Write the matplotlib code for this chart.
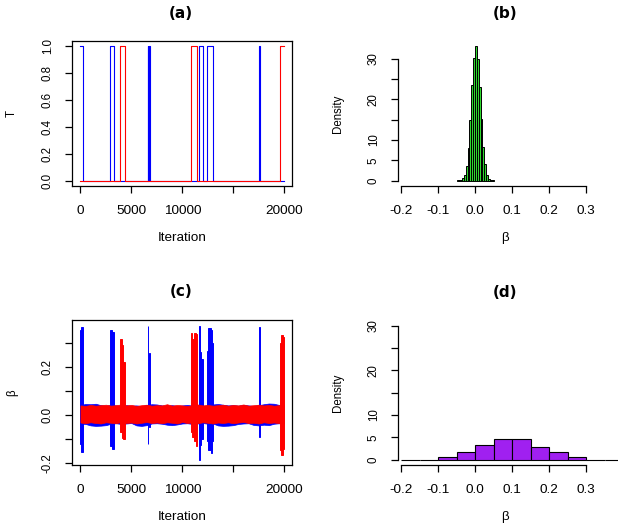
import numpy as np
import matplotlib
matplotlib.use("Agg")
import matplotlib.pyplot as plt

plt.rcParams['font.family'] = ['Liberation Sans', 'DejaVu Sans']

# ---- data ----
n_iter = 20000

# panel (a): iterations where T = 1 for each chain
blue_on = [(0, 220), (2860, 3280), (6600, 6650), (6720, 6790),
           (11660, 11990), (12380, 13040), (17560, 17600)]
red_on = [(3910, 4400), (10900, 11460), (19570, 20000)]

# panel (c): envelope of the beta trace while T = 0 (every 500 iterations)
blue_hi = [0.041, 0.045, 0.044, 0.046, 0.040, 0.038, 0.041, 0.039, 0.037, 0.040,
           0.038, 0.039, 0.036, 0.041, 0.044, 0.043, 0.039, 0.038, 0.040, 0.037,
           0.039, 0.041, 0.038, 0.040, 0.037, 0.039, 0.043, 0.045, 0.042, 0.039,
           0.040, 0.038, 0.041, 0.039, 0.037, 0.040, 0.044, 0.047, 0.046, 0.041, 0.038]
blue_lo = [-0.036, -0.038, -0.044, -0.046, -0.045, -0.043, -0.037, -0.035, -0.038, -0.036,
           -0.034, -0.044, -0.046, -0.043, -0.036, -0.035, -0.037, -0.041, -0.043, -0.040,
           -0.036, -0.035, -0.038, -0.036, -0.034, -0.037, -0.036, -0.044, -0.046, -0.045,
           -0.043, -0.038, -0.036, -0.035, -0.042, -0.044, -0.041, -0.043, -0.037, -0.035, -0.034]
red_hi = [0.039, 0.037, 0.041, 0.038, 0.040, 0.042, 0.038, 0.040, 0.043, 0.039,
          0.041, 0.037, 0.040, 0.042, 0.038, 0.040, 0.039, 0.044, 0.038, 0.041,
          0.039, 0.037, 0.040, 0.043, 0.039, 0.041, 0.038, 0.040, 0.042, 0.038,
          0.041, 0.039, 0.043, 0.038, 0.040, 0.042, 0.039, 0.041, 0.038, 0.040, 0.039]
red_lo = [-0.032, -0.035, -0.031, -0.034, -0.036, -0.031, -0.033, -0.035, -0.030, -0.034,
          -0.032, -0.036, -0.033, -0.030, -0.034, -0.032, -0.035, -0.031, -0.033, -0.036,
          -0.030, -0.034, -0.032, -0.035, -0.031, -0.033, -0.036, -0.032, -0.034, -0.031,
          -0.035, -0.032, -0.030, -0.034, -0.033, -0.036, -0.031, -0.034, -0.032, -0.035, -0.031]

# panel (c): beta range while T = 1  (start, end, low, high)
blue_blocks = [(0, 100, -0.120, 0.350), (100, 220, -0.153, 0.365),
               (2860, 2950, -0.110, 0.240), (2950, 3120, -0.130, 0.350),
               (3120, 3280, -0.140, 0.345), (6600, 6650, -0.120, 0.370),
               (6720, 6790, -0.050, 0.255), (11660, 11720, -0.186, 0.370),
               (11720, 11850, -0.125, 0.260), (11850, 11990, -0.100, 0.230),
               (12380, 12560, -0.110, 0.265), (12560, 12800, -0.145, 0.360),
               (12800, 12950, -0.157, 0.350), (12950, 13040, -0.110, 0.300),
               (17560, 17600, -0.092, 0.364)]
red_blocks = [(3910, 4050, -0.070, 0.313), (4050, 4200, -0.095, 0.290),
              (4200, 4400, -0.100, 0.220), (10900, 11000, -0.070, 0.340),
              (11000, 11180, -0.090, 0.315), (11180, 11350, -0.110, 0.340),
              (11350, 11460, -0.130, 0.335), (19570, 19720, -0.145, 0.300),
              (19720, 19900, -0.165, 0.330), (19900, 20000, -0.140, 0.325)]

# panel (b): histogram, bin width 0.005
b_edges = [-0.05 + 0.005 * i for i in range(21)]
b_dens = [0.05, 0.1, 0.2, 0.6, 1.5, 3.6, 8.0, 14.8, 23.5, 30.2,
          33.0, 30.0, 23.0, 15.2, 8.3, 4.0, 1.5, 0.4, 0.1, 0.05]

# panel (d): histogram, bin width 0.05
d_edges = [-0.2, -0.15, -0.1, -0.05, 0.0, 0.05, 0.1, 0.15, 0.2, 0.25, 0.3, 0.35, 0.4]
d_dens = [0, 0, 0.5, 1.6, 3.2, 4.6, 4.6, 2.9, 1.6, 0.5, 0, 0]

# ---- layout (pixels of a 624x529 image) ----
W, H = 624, 529
fig = plt.figure(figsize=(W / 100, H / 100), dpi=100)


def box(l, t, r, b):
    return [l / W, 1 - b / H, (r - l) / W, (b - t) / H]


def ftext(x, y, s, **kw):
    fig.text(x / W, 1 - y / H, s, ha='center', va='center', **kw)


def r_lim(lo, hi):
    d = (hi - lo) * 0.04
    return lo - d, hi + d


def style(ax, full_box=True):
    for side, sp in ax.spines.items():
        sp.set_linewidth(0.9)
        if not full_box and side in ('top', 'right'):
            sp.set_visible(False)
    ax.tick_params(direction='out', length=5, width=0.9)
    ax.tick_params(axis='x', pad=8.6)
    ax.tick_params(axis='y', pad=8.3)


def xticks(ax, ticks, labels):
    ax.set_xticks(ticks, labels, fontsize=9.7)


def yticks(ax, ticks, labels):
    ax.set_yticks(ticks, labels, fontsize=8.3, rotation=90, va='center')


ax_a = fig.add_axes(box(72.3, 41, 292.3, 186))
ax_b = fig.add_axes(box(398.3, 41, 617.5, 186))
ax_c = fig.add_axes(box(72.3, 320.3, 292.3, 465))
ax_d = fig.add_axes(box(398.3, 320.3, 617.5, 465))

iter_ticks = [0, 5000, 10000, 15000, 20000]
iter_labels = ['0', '5000', '10000', '', '20000']


# ---- (a) ----
def t_path(intervals):
    xs, ys = [], []
    if intervals[0][0] > 0:
        xs, ys = [0], [0]
    for s, e in intervals:
        xs += [s, s, e]
        ys += [0 if s > 0 else 1, 1, 1]
        if e < n_iter:
            xs.append(e)
            ys.append(0)
    if xs[-1] < n_iter:
        xs.append(n_iter)
        ys.append(0)
    return xs, ys


bx, by = t_path(blue_on)
rx, ry = t_path(red_on)
ax_a.plot(bx, by, color='#0000FF', lw=0.8)
ax_a.plot(rx, ry, color='#FF0000', lw=0.8)
ax_a.set_xlim(r_lim(1, n_iter))
ax_a.set_ylim(r_lim(0, 1))
style(ax_a)
xticks(ax_a, iter_ticks, iter_labels)
yticks(ax_a, [0, 0.2, 0.4, 0.6, 0.8, 1.0], ['0.0', '0.2', '0.4', '0.6', '0.8', '1.0'])

# ---- (c) ----
grid = np.linspace(0, n_iter, len(blue_hi))


def draw_blocks(ax, blocks, col):
    st = [b[0] for b in blocks]
    wd = [b[1] - b[0] for b in blocks]
    lo = [b[2] for b in blocks]
    ht = [b[3] - b[2] for b in blocks]
    ax.bar(st, ht, width=wd, bottom=lo, align='edge', color=col,
           edgecolor=col, linewidth=0.7)


ax_c.fill_between(grid, blue_lo, blue_hi, color='#0000FF', lw=0.5)
draw_blocks(ax_c, blue_blocks, '#0000FF')
ax_c.fill_between(grid, red_lo, red_hi, color='#FF0000', lw=0.5)
draw_blocks(ax_c, red_blocks, '#FF0000')
all_vals = [b[2] for b in blue_blocks + red_blocks] + [b[3] for b in blue_blocks + red_blocks]
ax_c.set_xlim(r_lim(1, n_iter))
ax_c.set_ylim(r_lim(min(all_vals), max(all_vals)))
style(ax_c)
xticks(ax_c, iter_ticks, iter_labels)
yticks(ax_c, [-0.2, -0.1, 0.0, 0.1, 0.2, 0.3], ['-0.2', '', '0.0', '', '0.2', ''])

# ---- (b) and (d) ----
beta_ticks = [-0.2, -0.1, 0.0, 0.1, 0.2, 0.3]
beta_labels = ['-0.2', '-0.1', '0.0', '0.1', '0.2', '0.3']
dens_ticks = [0, 5, 10, 15, 20, 25, 30]
dens_labels = ['0', '5', '10', '', '20', '', '30']

ax_b.bar(b_edges[:-1], b_dens, width=np.diff(b_edges), align='edge',
         color='#2ed82e', edgecolor='black', linewidth=0.7)
ax_b.set_ylim(r_lim(0, max(b_dens)))

ax_d.bar(d_edges[:-1], d_dens, width=np.diff(d_edges), align='edge',
         color='#A020F0', edgecolor='black', linewidth=0.8)
ax_d.set_ylim(r_lim(0, 30))

for ax in (ax_b, ax_d):
    ax.set_xlim(-0.2073, 0.385)
    style(ax, full_box=False)
    ax.spines['left'].set_bounds(0, 30)
    ax.spines['bottom'].set_bounds(-0.2, 0.3)
    xticks(ax, beta_ticks, beta_labels)
    yticks(ax, dens_ticks, dens_labels)

# ---- titles and axis labels ----
tfont = dict(fontsize=11, fontweight='bold', family='DejaVu Sans')
ftext(181, 13.5, '(a)', **tfont)
ftext(505, 13.5, '(b)', **tfont)
ftext(181.5, 291.7, '(c)', **tfont)
ftext(505.5, 292.3, '(d)', **tfont)

ftext(182, 238.3, 'Iteration', fontsize=9.7)
ftext(182, 517.3, 'Iteration', fontsize=9.7)
ftext(504.5, 238.3, 'β', fontsize=9.7)
ftext(504.5, 516.7, 'β', fontsize=9.7)
ftext(12, 113.5, 'T', fontsize=8.3, rotation=90)
ftext(12, 392.7, 'β', fontsize=8.3, rotation=90)
ftext(338, 113.5, 'Density', fontsize=8.3, rotation=90)
ftext(338.3, 392.7, 'Density', fontsize=8.3, rotation=90)

fig.savefig('out.png', dpi=100)
